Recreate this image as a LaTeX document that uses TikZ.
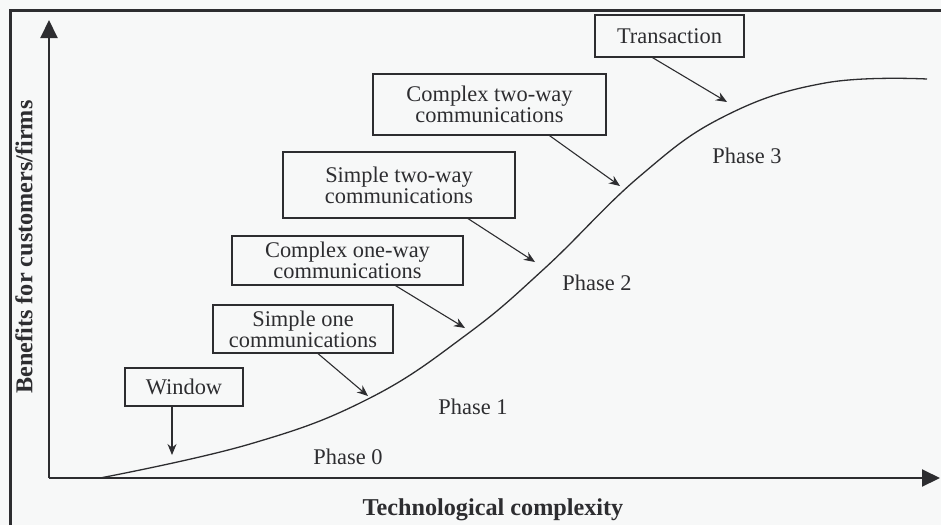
\documentclass[tikz,border=0pt]{standalone}
\usepackage{fontspec}
\setmainfont{Liberation Serif}
\usetikzlibrary{arrows.meta,calc}
\definecolor{paper}{RGB}{247,248,248}
\definecolor{ink}{RGB}{45,45,48}
\begin{document}
\begin{tikzpicture}[x=0.5pt,y=-0.5pt,
  every node/.style={text=ink},
  txt/.style={font=\fontsize{11.2}{10.4}\selectfont},
  stage/.style={draw=ink, line width=0.6pt, align=center, inner sep=0pt,
    font=\fontsize{11.2}{10.4}\selectfont},
  axis/.style={draw=ink, line width=1pt, -{Triangle[length=9pt,width=8.5pt]}},
  conn/.style={draw=ink, line width=0.55pt, -{Stealth[length=5.5pt,width=4.5pt]}},
  frameline/.style={draw=ink, line width=1.5pt},
  axlabel/.style={font=\bfseries\fontsize{12.1}{13}\selectfont}]

% page and frame
\fill[paper] (0,0) rectangle (941,525);
\useasboundingbox (0,0) rectangle (941,525);
\draw[frameline] (10,525) -- (10,10) -- (941,10);

% axes
\coordinate (origin) at (49,478);
\coordinate (ytip) at (49,20);
\coordinate (xtip) at (940,478);
\draw[axis] (origin) -- (ytip);
\draw[axis] (origin) -- (xtip);
\node[axlabel, rotate=90] (ylab) at (24,247) {Benefits for customers/firms};
\node[axlabel] (xlab) at (493,510) {Technological complexity};

% S-shaped benefit curve
\draw[ink, line width=0.65pt] plot[smooth, tension=0.7] coordinates {
  (100,478) (250,444) (368,399) (466,335) (545,268) (640,176)
  (725,116) (825,83) (927,79)};

% stage boxes
\node[stage, minimum width=59pt, minimum height=19pt] (win) at (184,387) {Window};
\node[stage, minimum width=90pt, minimum height=24pt] (s1) at (303,329)
  {Simple one\\communications};
\node[stage, minimum width=115.5pt, minimum height=24.5pt] (c1) at (347.5,260.5)
  {Complex one-way\\communications};
\node[stage, minimum width=116pt, minimum height=33pt] (s2) at (399,185)
  {Simple two-way\\communications};
\node[stage, minimum width=116.5pt, minimum height=30.5pt] (c2) at (489.5,104.5)
  {Complex two-way\\communications};
\node[stage, minimum width=74.5pt, minimum height=21pt] (tr) at (669.5,36)
  {Transaction};

% arrow targets on the curve
\coordinate (winT) at (172,455);
\coordinate (s1T) at (368,396);
\coordinate (c1T) at (465,328);
\coordinate (s2T) at (535,262);
\coordinate (c2T) at (620,186);
\coordinate (trT) at (727,102);

\draw[conn] ($(win.south)+(-12,0)$) -- (winT);
\draw[conn] ($(s1.south)+(15,0)$) -- (s1T);
\draw[conn] ($(c1.south)+(48,0)$) -- (c1T);
\draw[conn] ($(s2.south)+(69,0)$) -- (s2T);
\draw[conn] ($(c2.south)+(60,0)$) -- (c2T);
\draw[conn] ($(tr.south)+(-17,0)$) -- (trT);

% phase labels
\node[txt] (p0) at (348,457) {Phase 0};
\node[txt] (p1) at (473,407) {Phase 1};
\node[txt] (p2) at (597,283) {Phase 2};
\node[txt] (p3) at (747,156) {Phase 3};
\end{tikzpicture}
\end{document}
